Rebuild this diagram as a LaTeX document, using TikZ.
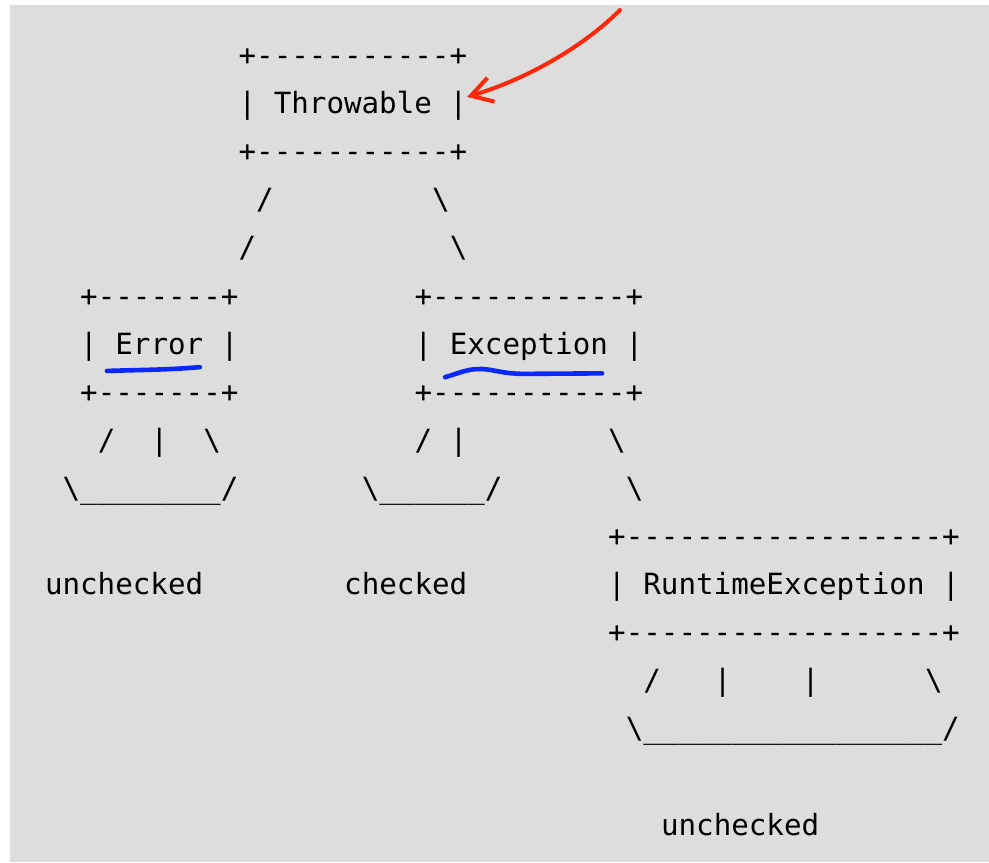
\documentclass[tikz,border=0pt]{standalone}
\usepackage{fontspec}
\setmonofont{DejaVu Sans Mono}
\usetikzlibrary{arrows.meta}
\definecolor{pgrey}{RGB}{221,221,221}
\definecolor{pred}{RGB}{250,40,10}
\definecolor{pblue}{RGB}{10,40,250}
\newcommand{\bksl}{\textbackslash}

\begin{document}
\begin{tikzpicture}[x=8.8pt,y=-24.05pt,
  asc/.style={font=\ttfamily\fontsize{14.6pt}{17pt}\selectfont,anchor=base west,
              inner sep=0pt,outer sep=0pt},
  redpen/.style={pred,line width=2pt,line cap=round,line join=round},
  bluepen/.style={pblue,line width=2.3pt,line cap=round,line join=round}
]
\useasboundingbox (-2.557,-1.362) rectangle (53.636,16.559);
\fill[pgrey] (-1.989,-1.258) rectangle (53.636,16.559);

\node[asc] (thrtop) at (11,0) {+-----------+};
\node[asc] (thr)    at (11,1) {|~Throwable~|};
\node[asc] (thrbot) at (11,2) {+-----------+};
\node[asc] (tl1) at (12,3) {/};  \node[asc] (tr1) at (22,3) {\bksl};
\node[asc] (tl2) at (11,4) {/};  \node[asc] (tr2) at (23,4) {\bksl};

\node[asc] (errtop) at (2,5) {+-------+};
\node[asc] (err)    at (2,6) {|~Error~|};
\node[asc] (errbot) at (2,7) {+-------+};
\node[asc] (el) at (3,8) {/}; \node[asc] (em) at (6,8) {|}; \node[asc] (er) at (9,8) {\bksl};
\node[asc] (ecup) at (1,9) {\bksl\_\_\_\_\_\_\_\_/};
\node[asc] (errlab) at (0,11) {unchecked};

\node[asc] (exctop) at (21,5) {+-----------+};
\node[asc] (exc)    at (21,6) {|~Exception~|};
\node[asc] (excbot) at (21,7) {+-----------+};
\node[asc] (xl) at (21,8) {/}; \node[asc] (xm) at (23,8) {|};
\node[asc] (xcup) at (18,9) {\bksl\_\_\_\_\_\_/};
\node[asc] (exclab) at (17,11) {checked};
\node[asc] (xr1) at (32,8) {\bksl}; \node[asc] (xr2) at (33,9) {\bksl};

\node[asc] (rtetop) at (32,10) {+------------------+};
\node[asc] (rte)    at (32,11) {|~RuntimeException~|};
\node[asc] (rtebot) at (32,12) {+------------------+};
\node[asc] (rl) at (34,13) {/}; \node[asc] (rm1) at (38,13) {|};
\node[asc] (rm2) at (43,13) {|}; \node[asc] (rr) at (50,13) {\bksl};
\node[asc] (rcup) at (33,14) {\bksl\_\_\_\_\_\_\_\_\_\_\_\_\_\_\_\_\_/};
\node[asc] (rtelab) at (35,16) {unchecked};

\coordinate (pen) at (32.67,-1.154);
\draw[redpen,-{Straight Barb[length=10.5pt,width=12.5pt]}] (pen)
  .. controls (30.68,-0.426) and (27.56,0.260) .. ([yshift=4.5pt]thr.east);

\draw[bluepen] (3.52,6.35) .. controls (5,6.33) and (7,6.33) .. (8.8,6.27);
\draw[bluepen] (22.73,6.48) .. controls (23.5,6.40) and (24,6.30) .. (24.8,6.31)
  .. controls (25.6,6.32) and (26,6.42) .. (27.5,6.41) -- (31.65,6.40);
\end{tikzpicture}
\end{document}
